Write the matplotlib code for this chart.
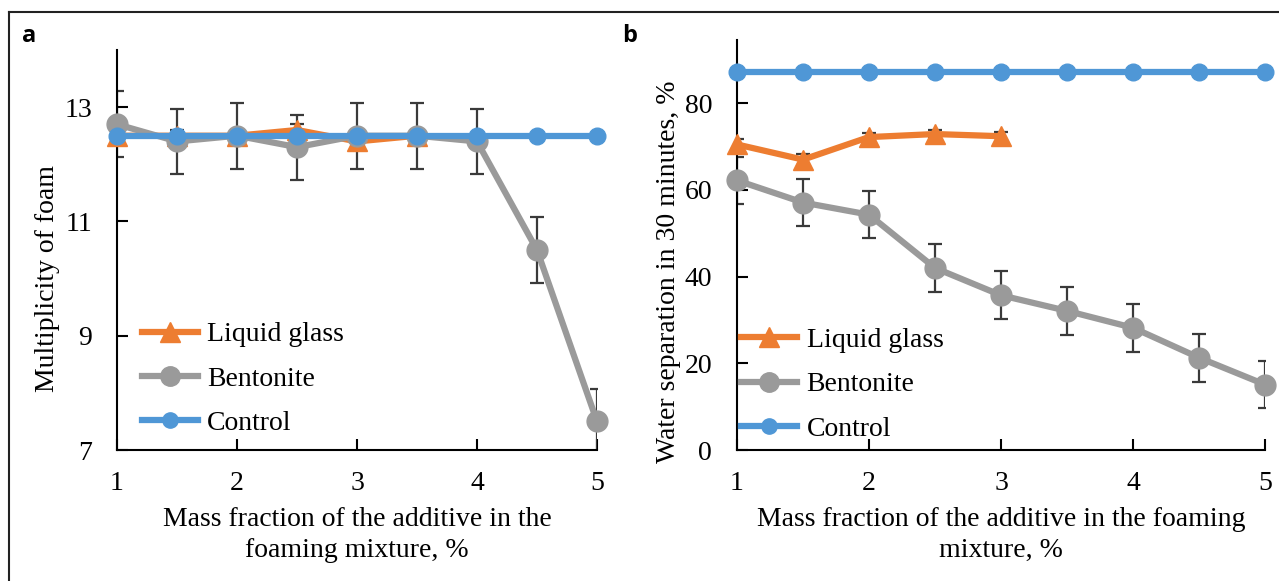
import matplotlib
matplotlib.use("Agg")
import matplotlib.pyplot as plt
from matplotlib.lines import Line2D

# ---------------- data ----------------
x_control = [1, 1.5, 2, 2.5, 3, 3.5, 4, 4.5, 5]
x_glass = [1, 1.5, 2, 2.5, 3, 3.5]
x_glass_b = [1, 1.5, 2, 2.5, 3]
x_bent = [1, 1.5, 2, 2.5, 3, 3.5, 4, 4.5, 5]

# panel a: multiplicity of foam
a_control = [12.5, 12.5, 12.5, 12.5, 12.5, 12.5, 12.5, 12.5, 12.5]
a_glass = [12.5, 12.5, 12.5, 12.6, 12.4, 12.5]
a_glass_err = [0.1, 0.1, 0.1, 0.1, 0.1, 0.1]
a_bent = [12.7, 12.4, 12.5, 12.3, 12.5, 12.5, 12.4, 10.5, 7.5]
a_bent_err = [0.58, 0.57, 0.58, 0.57, 0.58, 0.58, 0.57, 0.57, 0.57]

# panel b: water separation in 30 minutes, %
b_control = [87.2, 87.2, 87.2, 87.2, 87.2, 87.2, 87.2, 87.2, 87.2]
b_glass = [70.5, 67.0, 72.2, 72.9, 72.4]
b_glass_err = [1.3, 1.3, 1.0, 1.0, 1.0]
b_bent = [62.2, 57.1, 54.3, 42.0, 35.7, 32.1, 28.2, 21.3, 15.1]
b_bent_err = [5.5, 5.5, 5.5, 5.5, 5.5, 5.5, 5.5, 5.5, 5.5]

labels = ["Liquid glass", "Bentonite", "Control"]
xticks = [1, 2, 3, 4, 5]
a_yticks = [7, 9, 11, 13]
b_yticks = [0, 20, 40, 60, 80]

# ---------------- style ----------------
C_ORANGE = "#ED7D31"
C_GREY = "#9A9A9A"
C_BLUE = "#4F97D6"
C_ERR = "#3A3A3A"
SERIF = ["Liberation Serif", "DejaVu Serif"]
FS = 20

W, H = 1279, 581
fig = plt.figure(figsize=(W / 100, H / 100), dpi=100)


def fx(px):
    return px / W


def fy(py):
    return 1 - py / H


def style_axes(ax, ylim, yticks):
    ax.set_xlim(1, 5)
    ax.set_ylim(*ylim)
    ax.set_xticks(xticks)
    ax.set_yticks(yticks)
    for s in ("top", "right"):
        ax.spines[s].set_visible(False)
    for s in ("left", "bottom"):
        ax.spines[s].set_linewidth(1.5)
        ax.spines[s].set_color("black")
    ax.tick_params(axis="both", direction="in", length=8, width=1.5,
                   labelsize=FS)
    ax.tick_params(axis="x", pad=15)
    ax.tick_params(axis="y", pad=18)
    for lab in ax.get_xticklabels() + ax.get_yticklabels():
        lab.set_fontfamily(SERIF)
    ax.patch.set_alpha(0)


def draw(ax, xg, g, ge, xb, b, be, xc, c):
    ax.errorbar(xg, g, yerr=ge, fmt="none", ecolor=C_ERR, elinewidth=1.6,
                capsize=5, capthick=1.6, zorder=2)
    ax.errorbar(xb, b, yerr=be, fmt="none", ecolor=C_ERR, elinewidth=1.6,
                capsize=5, capthick=1.6, zorder=2)
    ax.plot(xg, g, color=C_ORANGE, lw=4.5, marker="^", markersize=14,
            clip_on=False, zorder=3)
    ax.plot(xb, b, color=C_GREY, lw=4.5, marker="o", markersize=15,
            clip_on=False, zorder=4)
    ax.plot(xc, c, color=C_BLUE, lw=4.5, marker="o", markersize=12,
            clip_on=False, zorder=5)


def legend(ax, bbox):
    handles = [
        Line2D([], [], color=C_ORANGE, lw=4.5, marker="^", markersize=14),
        Line2D([], [], color=C_GREY, lw=4.5, marker="o", markersize=14),
        Line2D([], [], color=C_BLUE, lw=4.5, marker="o", markersize=11),
    ]
    ax.legend(handles, labels, loc="lower left", bbox_to_anchor=bbox,
              frameon=False, prop={"family": SERIF, "size": FS},
              handlelength=2.0, handletextpad=0.35, labelspacing=0.68,
              borderaxespad=0, borderpad=0)


# panel a
axa = fig.add_axes([fx(117), fy(450), fx(597 - 117), (450 - 50) / H])
draw(axa, x_glass, a_glass, a_glass_err, x_bent, a_bent, a_bent_err,
     x_control, a_control)
style_axes(axa, (7, 14), a_yticks)
axa.set_ylabel("Multiplicity of foam", fontfamily=SERIF, fontsize=FS,
               labelpad=4)
axa.yaxis.set_label_coords(-0.119, 0.43)
axa.set_xlabel("Mass fraction of the additive in the\nfoaming mixture, %",
               fontfamily=SERIF, fontsize=FS, linespacing=1.3, labelpad=8)
legend(axa, (0.052, 0.035))

# panel b
axb = fig.add_axes([fx(737), fy(450), fx(1265 - 737), (450 - 40) / H])
draw(axb, x_glass_b, b_glass, b_glass_err, x_bent, b_bent, b_bent_err,
     x_control, b_control)
style_axes(axb, (0, 94.6), b_yticks)
axb.set_ylabel("Water separation in 30 minutes, %", fontfamily=SERIF,
               fontsize=FS, labelpad=6)
axb.yaxis.set_label_coords(-0.107, 0.434)
axb.set_xlabel("Mass fraction of the additive in the foaming\nmixture, %",
               fontfamily=SERIF, fontsize=FS, linespacing=1.3, labelpad=8)
legend(axb, (0.008, 0.02))

# outer frame (left and top lines)
fig.add_artist(Line2D([fx(9), fx(9)], [0, fy(12)], color="#222222", lw=1.5))
fig.add_artist(Line2D([fx(9), 1], [fy(12), fy(12)], color="#222222", lw=1.5))

# panel letters
fig.text(fx(22), fy(42), "a", fontsize=17, fontweight="bold",
         fontfamily="Open Sans", ha="left", va="baseline")
fig.text(fx(622), fy(42), "b", fontsize=17, fontweight="bold",
         fontfamily="Open Sans", ha="left", va="baseline")

fig.savefig("out.png", dpi=100)
